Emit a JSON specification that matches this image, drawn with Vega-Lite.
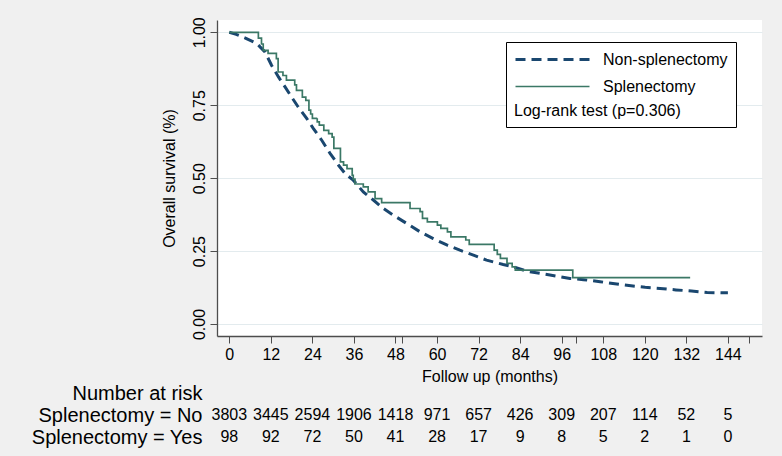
{
  "$schema": "https://vega.github.io/schema/vega-lite/v6.json",
  "width": 545,
  "height": 316,
  "autosize": {"type": "none"},
  "padding": {"left": 217, "top": 20, "right": 20, "bottom": 120},
  "background": "#f0f0f0",
  "config": {
    "view": {"fill": "white", "stroke": null},
    "font": "Liberation Sans",
    "axis": {"labelFont": "Liberation Sans", "titleFont": "Liberation Sans"},
    "axisX": {"labelOverlap": false},
    "legend": {"labelFont": "Liberation Sans", "titleFont": "Liberation Sans"}
  },
  "datasets": {
    "km": [
      {"group": "Non-splenectomy", "month": 0, "survival": 1.0},
      {"group": "Non-splenectomy", "month": 2, "survival": 0.993},
      {"group": "Non-splenectomy", "month": 4.5, "survival": 0.981},
      {"group": "Non-splenectomy", "month": 7.9, "survival": 0.962},
      {"group": "Non-splenectomy", "month": 10.3, "survival": 0.933},
      {"group": "Non-splenectomy", "month": 12.2, "survival": 0.887},
      {"group": "Non-splenectomy", "month": 14.2, "survival": 0.847},
      {"group": "Non-splenectomy", "month": 16.1, "survival": 0.813},
      {"group": "Non-splenectomy", "month": 18, "survival": 0.778},
      {"group": "Non-splenectomy", "month": 19.9, "survival": 0.744},
      {"group": "Non-splenectomy", "month": 22.4, "survival": 0.704},
      {"group": "Non-splenectomy", "month": 24.3, "survival": 0.67},
      {"group": "Non-splenectomy", "month": 26.7, "survival": 0.63},
      {"group": "Non-splenectomy", "month": 29.1, "survival": 0.585},
      {"group": "Non-splenectomy", "month": 31.5, "survival": 0.545},
      {"group": "Non-splenectomy", "month": 33.5, "survival": 0.515},
      {"group": "Non-splenectomy", "month": 35.8, "survival": 0.493},
      {"group": "Non-splenectomy", "month": 38.7, "survival": 0.453},
      {"group": "Non-splenectomy", "month": 41.6, "survival": 0.425},
      {"group": "Non-splenectomy", "month": 44.5, "survival": 0.396},
      {"group": "Non-splenectomy", "month": 47.4, "survival": 0.373},
      {"group": "Non-splenectomy", "month": 51.2, "survival": 0.345},
      {"group": "Non-splenectomy", "month": 55.1, "survival": 0.316},
      {"group": "Non-splenectomy", "month": 58.9, "survival": 0.293},
      {"group": "Non-splenectomy", "month": 62.8, "survival": 0.271},
      {"group": "Non-splenectomy", "month": 66.6, "survival": 0.253},
      {"group": "Non-splenectomy", "month": 70.5, "survival": 0.236},
      {"group": "Non-splenectomy", "month": 74.3, "survival": 0.219},
      {"group": "Non-splenectomy", "month": 79.1, "survival": 0.204},
      {"group": "Non-splenectomy", "month": 82, "survival": 0.196},
      {"group": "Non-splenectomy", "month": 86, "survival": 0.181},
      {"group": "Non-splenectomy", "month": 92.6, "survival": 0.168},
      {"group": "Non-splenectomy", "month": 98.4, "survival": 0.156},
      {"group": "Non-splenectomy", "month": 102.3, "survival": 0.152},
      {"group": "Non-splenectomy", "month": 107.1, "survival": 0.145},
      {"group": "Non-splenectomy", "month": 111.9, "survival": 0.137},
      {"group": "Non-splenectomy", "month": 116, "survival": 0.131},
      {"group": "Non-splenectomy", "month": 120.1, "survival": 0.126},
      {"group": "Non-splenectomy", "month": 124.4, "survival": 0.122},
      {"group": "Non-splenectomy", "month": 129, "survival": 0.117},
      {"group": "Non-splenectomy", "month": 133.5, "survival": 0.113},
      {"group": "Non-splenectomy", "month": 138, "survival": 0.108},
      {"group": "Non-splenectomy", "month": 142.7, "survival": 0.107},
      {"group": "Non-splenectomy", "month": 144, "survival": 0.107},
      {"group": "Splenectomy", "month": 0, "survival": 1.0},
      {"group": "Splenectomy", "month": 8.4, "survival": 0.98},
      {"group": "Splenectomy", "month": 9.3, "survival": 0.96},
      {"group": "Splenectomy", "month": 9.8, "survival": 0.938},
      {"group": "Splenectomy", "month": 11.2, "survival": 0.928},
      {"group": "Splenectomy", "month": 13.6, "survival": 0.91},
      {"group": "Splenectomy", "month": 14.1, "survival": 0.864},
      {"group": "Splenectomy", "month": 15.5, "survival": 0.852},
      {"group": "Splenectomy", "month": 16.5, "survival": 0.836},
      {"group": "Splenectomy", "month": 18.9, "survival": 0.82},
      {"group": "Splenectomy", "month": 19.4, "survival": 0.801},
      {"group": "Splenectomy", "month": 21.1, "survival": 0.778},
      {"group": "Splenectomy", "month": 22.1, "survival": 0.767},
      {"group": "Splenectomy", "month": 23.0, "survival": 0.733},
      {"group": "Splenectomy", "month": 23.5, "survival": 0.72},
      {"group": "Splenectomy", "month": 24.0, "survival": 0.705},
      {"group": "Splenectomy", "month": 25.4, "survival": 0.693},
      {"group": "Splenectomy", "month": 26.0, "survival": 0.682},
      {"group": "Splenectomy", "month": 27.3, "survival": 0.664},
      {"group": "Splenectomy", "month": 28.7, "survival": 0.653},
      {"group": "Splenectomy", "month": 29.7, "survival": 0.641},
      {"group": "Splenectomy", "month": 30.2, "survival": 0.602},
      {"group": "Splenectomy", "month": 32.1, "survival": 0.556},
      {"group": "Splenectomy", "month": 33.0, "survival": 0.545},
      {"group": "Splenectomy", "month": 34.0, "survival": 0.533},
      {"group": "Splenectomy", "month": 35.5, "survival": 0.51},
      {"group": "Splenectomy", "month": 35.8, "survival": 0.497},
      {"group": "Splenectomy", "month": 36.3, "survival": 0.48},
      {"group": "Splenectomy", "month": 38.7, "survival": 0.47},
      {"group": "Splenectomy", "month": 40.1, "survival": 0.453},
      {"group": "Splenectomy", "month": 42.1, "survival": 0.43},
      {"group": "Splenectomy", "month": 44.0, "survival": 0.416},
      {"group": "Splenectomy", "month": 52.2, "survival": 0.396},
      {"group": "Splenectomy", "month": 55.1, "survival": 0.385},
      {"group": "Splenectomy", "month": 55.8, "survival": 0.362},
      {"group": "Splenectomy", "month": 57.2, "survival": 0.35},
      {"group": "Splenectomy", "month": 60.1, "survival": 0.339},
      {"group": "Splenectomy", "month": 61.1, "survival": 0.328},
      {"group": "Splenectomy", "month": 63.0, "survival": 0.316},
      {"group": "Splenectomy", "month": 64.0, "survival": 0.299},
      {"group": "Splenectomy", "month": 68.3, "survival": 0.288},
      {"group": "Splenectomy", "month": 69.3, "survival": 0.273},
      {"group": "Splenectomy", "month": 76.5, "survival": 0.253},
      {"group": "Splenectomy", "month": 77.4, "survival": 0.239},
      {"group": "Splenectomy", "month": 78.3, "survival": 0.225},
      {"group": "Splenectomy", "month": 80.2, "survival": 0.208},
      {"group": "Splenectomy", "month": 81.7, "survival": 0.196},
      {"group": "Splenectomy", "month": 82.6, "survival": 0.185},
      {"group": "Splenectomy", "month": 99.2, "survival": 0.159},
      {"group": "Splenectomy", "month": 133.1, "survival": 0.159}
    ],
    "risk": [
      {"row": "Splenectomy = No", "month": 0, "n": 3803},
      {"row": "Splenectomy = No", "month": 12, "n": 3445},
      {"row": "Splenectomy = No", "month": 24, "n": 2594},
      {"row": "Splenectomy = No", "month": 36, "n": 1906},
      {"row": "Splenectomy = No", "month": 48, "n": 1418},
      {"row": "Splenectomy = No", "month": 60, "n": 971},
      {"row": "Splenectomy = No", "month": 72, "n": 657},
      {"row": "Splenectomy = No", "month": 84, "n": 426},
      {"row": "Splenectomy = No", "month": 96, "n": 309},
      {"row": "Splenectomy = No", "month": 108, "n": 207},
      {"row": "Splenectomy = No", "month": 120, "n": 114},
      {"row": "Splenectomy = No", "month": 132, "n": 52},
      {"row": "Splenectomy = No", "month": 144, "n": 5},
      {"row": "Splenectomy = Yes", "month": 0, "n": 98},
      {"row": "Splenectomy = Yes", "month": 12, "n": 92},
      {"row": "Splenectomy = Yes", "month": 24, "n": 72},
      {"row": "Splenectomy = Yes", "month": 36, "n": 50},
      {"row": "Splenectomy = Yes", "month": 48, "n": 41},
      {"row": "Splenectomy = Yes", "month": 60, "n": 28},
      {"row": "Splenectomy = Yes", "month": 72, "n": 17},
      {"row": "Splenectomy = Yes", "month": 84, "n": 9},
      {"row": "Splenectomy = Yes", "month": 96, "n": 8},
      {"row": "Splenectomy = Yes", "month": 108, "n": 5},
      {"row": "Splenectomy = Yes", "month": 120, "n": 2},
      {"row": "Splenectomy = Yes", "month": 132, "n": 1},
      {"row": "Splenectomy = Yes", "month": 144, "n": 0}
    ]
  },
  "layer": [
    {
      "layer": [
        {
          "data": {"name": "km"},
          "transform": [{"filter": "datum.group === 'Non-splenectomy'"}],
          "mark": {"type": "line", "interpolate": "linear", "clip": true},
          "encoding": {
            "x": {
              "field": "month", "type": "quantitative",
              "scale": {"domain": [-3.55, 153.85], "nice": false, "zero": false},
              "axis": {
                "values": [0, 12, 24, 36, 48, 60, 72, 84, 96, 108, 120, 132, 144, 50, 100, 150],
                "labelExpr": "datum.value % 12 === 0 ? datum.label : ''",
                "labelOverlap": false, "labelFlush": false,
                "title": "Follow up (months)",
                "titleFontSize": 16, "titleFontWeight": "normal", "titleColor": "black", "titlePadding": 6,
                "labelFontSize": 16, "labelColor": "black", "labelPadding": 3,
                "tickSize": 7, "tickColor": "#4d4d4d", "domainColor": "#4d4d4d", "domainWidth": 1.3,
                "grid": false
              }
            },
            "y": {
              "field": "survival", "type": "quantitative",
              "scale": {"domain": [-0.0411, 1.0422], "nice": false, "zero": false},
              "axis": {
                "values": [0, 0.25, 0.5, 0.75, 1],
                "format": ".2f",
                "labelAngle": -90, "labelAlign": "center", "labelBaseline": "alphabetic",
                "labelFontSize": 16, "labelColor": "black", "labelPadding": 6,
                "title": "Overall survival (%)",
                "titleFontSize": 16, "titleFontWeight": "normal", "titleColor": "black", "titlePadding": 14,
                "tickSize": 7, "tickColor": "#4d4d4d", "domainColor": "#4d4d4d", "domainWidth": 1.3,
                "grid": true, "gridColor": "#e3ebee", "gridWidth": 1
              }
            },
            "color": {
              "field": "group", "type": "nominal",
              "scale": {"domain": ["Non-splenectomy", "Splenectomy"], "range": ["#1a476f", "#3b7866"]},
              "legend": {
                "title": "Log-rank test (p=0.306)",
                "titleOrient": "bottom",
                "titleFontSize": 16, "titleFontWeight": "normal", "titleColor": "black", "titlePadding": 7,
                "orient": "none", "legendX": 289, "legendY": 22,
                "symbolType": "stroke", "symbolSize": 5476, "clipHeight": 19,
                "labelFontSize": 16, "labelColor": "black", "labelOffset": 12,
                "rowPadding": 8, "padding": 8,
                "fillColor": "white", "strokeColor": "black"
              }
            },
            "strokeDash": {
              "field": "group", "type": "nominal",
              "scale": {"domain": ["Non-splenectomy", "Splenectomy"], "range": [[10, 6], [1, 0]]}
            },
            "strokeWidth": {
              "field": "group", "type": "ordinal",
              "scale": {"domain": ["Non-splenectomy", "Splenectomy"], "range": [3, 1.7]}
            }
          }
        },
        {
          "data": {"name": "km"},
          "transform": [{"filter": "datum.group === 'Splenectomy'"}],
          "mark": {"type": "line", "interpolate": "step-after", "clip": true},
          "encoding": {
            "x": {
              "field": "month", "type": "quantitative",
              "scale": {"domain": [-3.55, 153.85], "nice": false, "zero": false},
              "axis": {
                "values": [0, 12, 24, 36, 48, 60, 72, 84, 96, 108, 120, 132, 144, 50, 100, 150],
                "labelExpr": "datum.value % 12 === 0 ? datum.label : ''",
                "labelOverlap": false, "labelFlush": false,
                "title": "Follow up (months)",
                "titleFontSize": 16, "titleFontWeight": "normal", "titleColor": "black", "titlePadding": 6,
                "labelFontSize": 16, "labelColor": "black", "labelPadding": 3,
                "tickSize": 7, "tickColor": "#4d4d4d", "domainColor": "#4d4d4d", "domainWidth": 1.3,
                "grid": false
              }
            },
            "y": {"field": "survival", "type": "quantitative", "scale": {"domain": [-0.0411, 1.0422], "nice": false, "zero": false}},
            "color": {"field": "group", "type": "nominal", "scale": {"domain": ["Non-splenectomy", "Splenectomy"], "range": ["#1a476f", "#3b7866"]}},
            "strokeDash": {"field": "group", "type": "nominal", "scale": {"domain": ["Non-splenectomy", "Splenectomy"], "range": [[10, 6], [1, 0]]}},
            "strokeWidth": {"field": "group", "type": "ordinal", "scale": {"domain": ["Non-splenectomy", "Splenectomy"], "range": [3, 1.7]}}
          }
        }
      ]
    },
    {
      "data": {"name": "risk"},
      "mark": {"type": "text", "fontSize": 16, "color": "black", "baseline": "middle", "align": "center"},
      "encoding": {
        "x": {
          "field": "month", "type": "quantitative",
          "scale": {"domain": [-3.55, 153.85], "nice": false, "zero": false},
          "axis": {
            "values": [0, 12, 24, 36, 48, 60, 72, 84, 96, 108, 120, 132, 144, 50, 100, 150],
            "labelExpr": "datum.value % 12 === 0 ? datum.label : ''",
            "labelOverlap": false, "labelFlush": false,
            "title": "Follow up (months)",
            "titleFontSize": 16, "titleFontWeight": "normal", "titleColor": "black", "titlePadding": 6,
            "labelFontSize": 16, "labelColor": "black", "labelPadding": 3,
            "tickSize": 7, "tickColor": "#4d4d4d", "domainColor": "#4d4d4d", "domainWidth": 1.3,
            "grid": false
          }
        },
        "y": {
          "field": "row", "type": "nominal",
          "scale": {"domain": ["Number at risk", "Splenectomy = No", "Splenectomy = Yes"], "range": [373, 417], "padding": 0},
          "axis": {
            "orient": "left", "title": null, "domain": false, "ticks": false, "grid": false,
            "labelFontSize": 20, "labelColor": "black", "labelPadding": 15, "labelAlign": "right", "labelBaseline": "middle"
          }
        },
        "text": {"field": "n", "type": "quantitative"}
      }
    }
  ],
  "resolve": {"scale": {"y": "independent"}, "axis": {"y": "independent"}}
}
